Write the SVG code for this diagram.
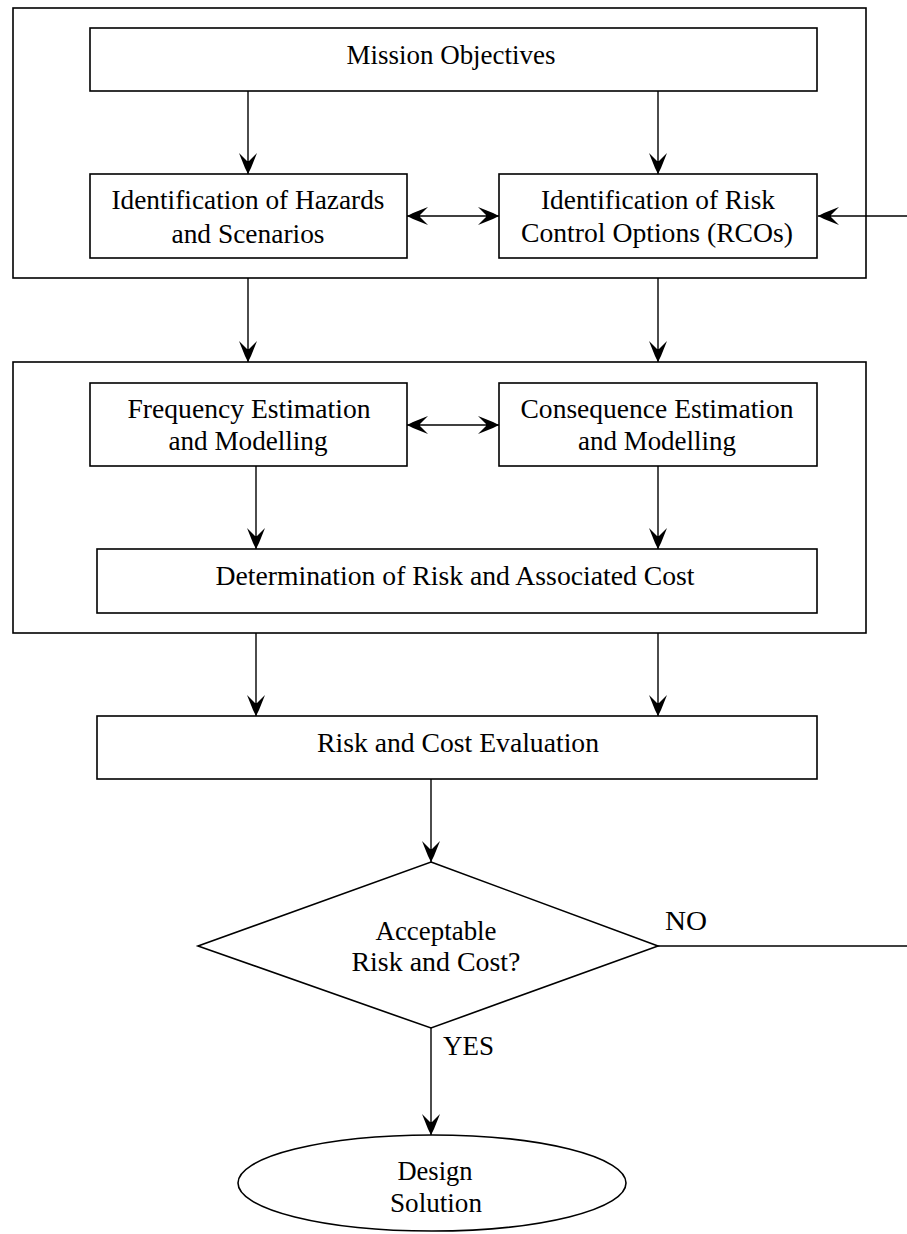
<svg xmlns="http://www.w3.org/2000/svg" width="907" height="1234" viewBox="0 0 907 1234">
<defs>
<style>
.box{fill:none;stroke:#000;stroke-width:1.6}
.nd{fill:#fff;stroke:#000;stroke-width:1.6}
.ln{fill:none;stroke:#000;stroke-width:1.4}
.t{font-family:"Liberation Serif","Times New Roman",serif;font-size:27px;fill:#000;text-anchor:middle}
.ts{font-family:"Liberation Serif","Times New Roman",serif;font-size:27px;fill:#000}
</style>
<marker id="ah" viewBox="-23 -10 24 20" refX="0" refY="0" markerWidth="24" markerHeight="20" markerUnits="userSpaceOnUse" orient="auto-start-reverse">
<path d="M0,0 L-6,-3 L-21,-9 L-13,-1 L-13,1 L-21,9 L-6,3 Z" fill="#000"/>
</marker>
</defs>
<rect width="907" height="1234" fill="#fff"/>
<g id="group-top"><rect class="box" x="13" y="8" width="853" height="270"/></g>
<g id="group-middle"><rect class="box" x="13" y="362" width="853" height="271"/></g>
<g id="mission">
<rect class="nd" x="90" y="28" width="727" height="63"/>
<text class="t" x="451" y="64" textLength="209" lengthAdjust="spacingAndGlyphs">Mission Objectives</text>
</g>
<g id="hazards">
<rect class="nd" x="90" y="174" width="317" height="84"/>
<text class="t" x="248" y="209" textLength="273" lengthAdjust="spacingAndGlyphs">Identification of Hazards</text>
<text class="t" x="248" y="243" textLength="153" lengthAdjust="spacingAndGlyphs">and Scenarios</text>
</g>
<g id="rcos">
<rect class="nd" x="499" y="174" width="318" height="84"/>
<text class="t" x="658" y="209" textLength="234" lengthAdjust="spacingAndGlyphs">Identification of Risk</text>
<text class="t" x="657" y="242" textLength="272" lengthAdjust="spacingAndGlyphs">Control Options (RCOs)</text>
</g>
<g id="frequency">
<rect class="nd" x="90" y="383" width="317" height="83"/>
<text class="t" x="249" y="418" textLength="243" lengthAdjust="spacingAndGlyphs">Frequency Estimation</text>
<text class="t" x="248" y="450" textLength="159" lengthAdjust="spacingAndGlyphs">and Modelling</text>
</g>
<g id="consequence">
<rect class="nd" x="499" y="383" width="318" height="83"/>
<text class="t" x="657" y="418" textLength="273" lengthAdjust="spacingAndGlyphs">Consequence Estimation</text>
<text class="t" x="657" y="450" textLength="158" lengthAdjust="spacingAndGlyphs">and Modelling</text>
</g>
<g id="determination">
<rect class="nd" x="97" y="549" width="720" height="64"/>
<text class="t" x="455" y="585" textLength="479" lengthAdjust="spacingAndGlyphs">Determination of Risk and Associated Cost</text>
</g>
<g id="evaluation">
<rect class="nd" x="97" y="716" width="720" height="63"/>
<text class="t" x="458" y="752" textLength="282" lengthAdjust="spacingAndGlyphs">Risk and Cost Evaluation</text>
</g>
<g id="decision">
<polygon class="nd" points="431,862 658,946 431,1028 198,946"/>
<text class="t" x="436" y="940" textLength="121" lengthAdjust="spacingAndGlyphs">Acceptable</text>
<text class="t" x="436" y="971" textLength="169" lengthAdjust="spacingAndGlyphs">Risk and Cost?</text>
</g>
<g id="design">
<ellipse class="nd" cx="432" cy="1183" rx="194" ry="48"/>
<text class="t" x="435" y="1180" textLength="75" lengthAdjust="spacingAndGlyphs">Design</text>
<text class="t" x="436" y="1212" textLength="92" lengthAdjust="spacingAndGlyphs">Solution</text>
</g>
<g id="connectors">
<line class="ln" x1="248" y1="91" x2="248" y2="174" marker-end="url(#ah)"/>
<line class="ln" x1="658" y1="91" x2="658" y2="174" marker-end="url(#ah)"/>
<line class="ln" x1="407" y1="216" x2="499" y2="216" marker-start="url(#ah)" marker-end="url(#ah)"/>
<line class="ln" x1="907" y1="216" x2="818" y2="216" marker-end="url(#ah)"/>
<line class="ln" x1="248" y1="278" x2="248" y2="362" marker-end="url(#ah)"/>
<line class="ln" x1="658" y1="278" x2="658" y2="362" marker-end="url(#ah)"/>
<line class="ln" x1="407" y1="425" x2="499" y2="425" marker-start="url(#ah)" marker-end="url(#ah)"/>
<line class="ln" x1="256" y1="466" x2="256" y2="549" marker-end="url(#ah)"/>
<line class="ln" x1="658" y1="466" x2="658" y2="549" marker-end="url(#ah)"/>
<line class="ln" x1="256" y1="633" x2="256" y2="716" marker-end="url(#ah)"/>
<line class="ln" x1="658" y1="633" x2="658" y2="716" marker-end="url(#ah)"/>
<line class="ln" x1="431" y1="779" x2="431" y2="862" marker-end="url(#ah)"/>
<line class="ln" x1="658" y1="946" x2="907" y2="946"/>
<line class="ln" x1="431" y1="1028" x2="431" y2="1135" marker-end="url(#ah)"/>
<text class="ts" x="665" y="930" textLength="42" lengthAdjust="spacingAndGlyphs">NO</text>
<text class="ts" x="443" y="1055" textLength="51" lengthAdjust="spacingAndGlyphs">YES</text>
</g>
</svg>
